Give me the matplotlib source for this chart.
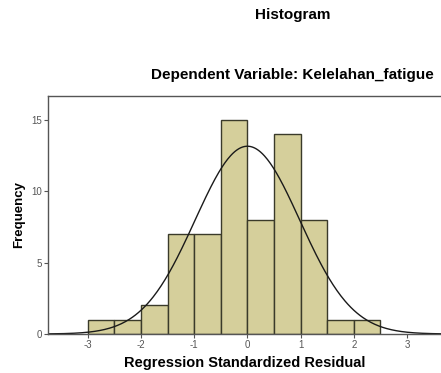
import numpy as np
import matplotlib
matplotlib.use("Agg")
import matplotlib.pyplot as plt

# histogram of the standardized residuals (bin width 0.5)
bin_edges = [-3.0, -2.5, -2.0, -1.5, -1.0, -0.5, 0.0, 0.5, 1.0, 1.5, 2.0, 2.5]
counts = [1, 1, 2, 7, 7, 15, 8, 14, 8, 1, 1]
resid_mean = 0.0
resid_std = 0.984
n_obs = sum(counts)

x_ticks = [-3, -2, -1, 0, 1, 2, 3]
x_ticklabels = ['-3', '-2', '-1', '0', '1', '2', '3']
y_ticks = [0, 5, 10, 15]

plt.rcParams['font.family'] = ['Liberation Sans', 'DejaVu Sans']

fig = plt.figure(figsize=(4.41, 3.73), dpi=100)
ax = fig.add_axes([48/441, 1 - 334/373, 1 - 48/441, (334 - 96)/373])

lefts = bin_edges[:-1]
widths = np.diff(bin_edges)
ax.bar(lefts, counts, width=widths, align='edge',
       color='#d5cf9b', edgecolor='#3a3a2a', linewidth=1.0)

# normal curve scaled to the histogram
xs = np.linspace(-3.75, 3.7, 400)
bw = bin_edges[1] - bin_edges[0]
ys = n_obs * bw / (resid_std * np.sqrt(2 * np.pi)) * np.exp(-0.5 * ((xs - resid_mean) / resid_std) ** 2)
ax.plot(xs, ys, color='#1a1a1a', linewidth=1.0)

ax.set_xlim(-3.75, 3.64)
ax.set_ylim(0, 16.7)
ax.set_xticks(x_ticks)
ax.set_xticklabels(x_ticklabels)
ax.set_yticks(y_ticks)
ax.tick_params(direction='out', length=3, width=0.8, labelsize=7,
               labelcolor='#555555', color='#555555', pad=1.5)
for s in ['left', 'top', 'bottom']:
    ax.spines[s].set_color('#555555')
    ax.spines[s].set_linewidth(1.0)
ax.spines['right'].set_visible(False)

ax.set_xlabel('Regression Standardized Residual', fontsize=10.5, fontweight='bold', labelpad=4)
ax.set_ylabel('Frequency', fontsize=9.5, fontweight='bold', labelpad=4)

fig.text(293/441, 1 - 15/373, 'Histogram', ha='center', va='center',
         fontsize=11, fontweight='bold')
fig.text(292/441, 1 - 75/373, 'Dependent Variable: Kelelahan_fatigue',
         ha='center', va='center', fontsize=11, fontweight='bold')

fig.savefig('out.png', dpi=100)
